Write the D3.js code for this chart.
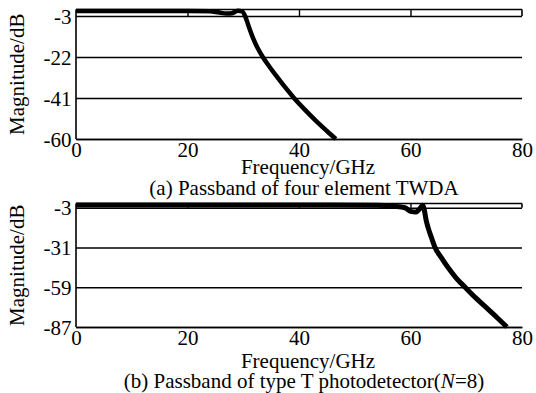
<!DOCTYPE html>
<html>
<head>
<meta charset="utf-8">
<script src="https://cdn.jsdelivr.net/npm/d3@7"></script>
<style>
  html, body { margin: 0; padding: 0; background: #fff; }
  svg { display: block; }
  text { font-family: "Liberation Serif", "Times New Roman", Times, serif; fill: #000; }
</style>
</head>
<body>
<svg id="chart" width="536" height="393"></svg>
<script>
// Panel (a): four-element TWDA passband
const freqA = [0, 5, 10, 15, 20, 24, 25.5, 27, 28, 29, 29.8, 30.4, 31, 31.8, 32.6, 33.5, 34.7, 36, 37.5, 39.1, 41, 43, 45, 46.6];
const magA  = [-0.7, -0.7, -0.7, -0.7, -0.7, -0.8, -1.3, -1.9, -1.7, -0.6, -0.9, -3.5, -8, -13.5, -18, -22, -26.5, -31, -36, -41, -46.3, -51.5, -56.3, -60];
const yTicksA = [-3, -22, -41, -60];

// Panel (b): type T photodetector (N=8) passband
const freqB = [0, 20, 40, 54, 57, 59, 60, 61, 61.8, 62.2, 62.5, 62.8, 63.2, 63.8, 64.4, 65.5, 66.8, 68.2, 69.8, 71.7, 73.8, 75.5, 77.3];
const magB  = [-1, -1, -1, -1.2, -2, -3, -5.5, -6, -3, -1.2, -5, -11.7, -17.5, -24.5, -31, -38, -45.5, -52.5, -59, -66.5, -74, -80.3, -87];
const yTicksB = [-3, -31, -59, -87];

const xTicks = [0, 20, 40, 60, 80];

const svg = d3.select("#chart");
const left = 76, right = 522;

const panels = [
  { freq: freqA, mag: magA, yTicks: yTicksA, yMin: -60, top: 9.5, bottom: 139,
    tickBase: 157, xLabelBase: 174, caption: "(a) Passband of four element TWDA", captionBase: 195, width: 4.5 },
  { freq: freqB, mag: magB, yTicks: yTicksB, yMin: -87, top: 203.5, bottom: 327,
    tickBase: 345, xLabelBase: 368, caption: null, captionBase: 388, width: 5 }
];

const x = d3.scaleLinear().domain([0, 80]).range([left, right]);
const fmt = d => String(d);   // plain hyphen-minus labels

panels.forEach((p, i) => {
  const y = d3.scaleLinear().domain([p.yMin, 0]).range([p.bottom, p.top]);
  const g = svg.append("g");

  // horizontal grid lines at the tick values
  g.append("g")
    .attr("transform", `translate(${left},0)`)
    .call(d3.axisLeft(y).tickValues(p.yTicks).tickSize(-(right - left)).tickPadding(5).tickFormat(fmt))
    .call(a => a.select(".domain").remove())
    .call(a => a.selectAll("line").attr("stroke", "#000").attr("stroke-width", 1.6))
    .call(a => a.selectAll("text").attr("font-size", 21).attr("x", -4.5).attr("dy", "0.34em"));

  // frame: top border, left axis, short right edge between 0 and -3 dB
  g.append("line").attr("x1", left).attr("x2", right).attr("y1", y(0)).attr("y2", y(0))
    .attr("stroke", "#000").attr("stroke-width", 1.6);
  g.append("line").attr("x1", left).attr("x2", left).attr("y1", y(0)).attr("y2", y(p.yMin))
    .attr("stroke", "#000").attr("stroke-width", 1.6);
  g.append("line").attr("x1", right).attr("x2", right).attr("y1", y(0)).attr("y2", y(-3))
    .attr("stroke", "#000").attr("stroke-width", 1.6);

  // inward ticks along the top
  g.append("g")
    .attr("transform", `translate(0,${y(0)})`)
    .call(d3.axisTop(x).tickValues([20, 40, 60]).tickSize(-(y(-3) - y(0))).tickFormat(""))
    .call(a => a.select(".domain").remove())
    .call(a => a.selectAll("line").attr("stroke", "#000").attr("stroke-width", 1.4));

  // bottom axis labels
  g.append("g")
    .attr("transform", `translate(0,${y(p.yMin)})`)
    .call(d3.axisBottom(x).tickValues(xTicks).tickSize(0).tickPadding(0).tickFormat(fmt))
    .call(a => a.select(".domain").attr("stroke", "#000").attr("stroke-width", 1.6))
    .call(a => a.selectAll("text").attr("font-size", 21).attr("y", p.tickBase - y(p.yMin)).attr("dy", 0));

  // response curve
  const line = d3.line().x((d, k) => x(p.freq[k])).y(d => y(d)).curve(d3.curveMonotoneX);
  g.append("path").datum(p.mag)
    .attr("d", line)
    .attr("fill", "none").attr("stroke", "#000")
    .attr("stroke-width", p.width).attr("stroke-linejoin", "round").attr("stroke-linecap", "butt");

  // axis titles
  g.append("text")
    .attr("transform", `translate(24,${(y(0) + y(p.yMin)) / 2}) rotate(-90)`)
    .attr("text-anchor", "middle").attr("font-size", 21)
    .text("Magnitude/dB");
  g.append("text")
    .attr("x", 308).attr("y", p.xLabelBase)
    .attr("text-anchor", "middle").attr("font-size", 21)
    .text("Frequency/GHz");

  // caption
  const cap = g.append("text")
    .attr("x", 304).attr("y", p.captionBase)
    .attr("text-anchor", "middle").attr("font-size", 21);
  if (i === 0) {
    cap.text(p.caption);
  } else {
    cap.append("tspan").text("(b) Passband of type T photodetector(");
    cap.append("tspan").attr("font-style", "italic").text("N");
    cap.append("tspan").text("=8)");
  }
});
</script>
</body>
</html>
